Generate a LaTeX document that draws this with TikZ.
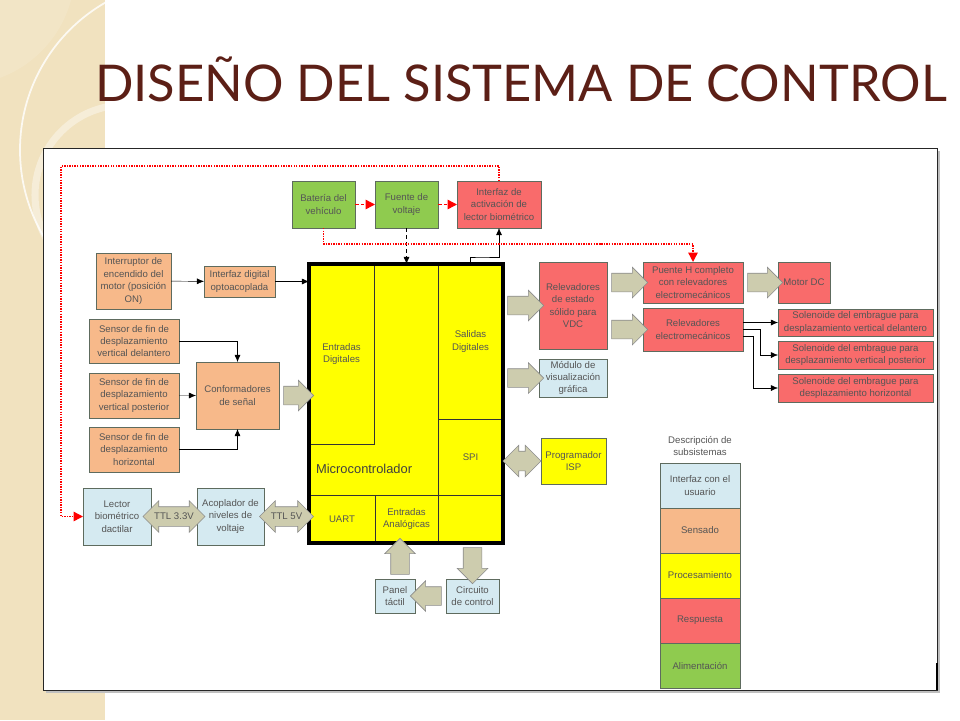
\documentclass[tikz,border=0pt]{standalone}
\usepackage{fontspec}
\setmainfont{Liberation Sans}
\newfontfamily\titlefont{Lato}
\usetikzlibrary{positioning, arrows.meta, calc, shapes.arrows}

\definecolor{sens}{HTML}{F7B98A}
\definecolor{resp}{HTML}{F96B6B}
\definecolor{alim}{HTML}{8FCB4F}
\definecolor{user}{HTML}{D5EAF1}
\definecolor{proc}{HTML}{FFFF00}
\definecolor{fatc}{HTML}{CDCCAE}
\definecolor{edgec}{HTML}{5E6B5E}
\definecolor{txt}{HTML}{555555}
\definecolor{titc}{HTML}{5C1F16}
\definecolor{beige}{HTML}{F1E2BF}

\begin{document}
\begin{tikzpicture}[x=0.03cm, y=-0.03cm]
	% Define styles
	\tikzset{
		block/.style={rectangle, draw=edgec, line width=0.6pt, outer sep=0pt, inner sep=1pt, text=txt, align=center, font=\fontsize{8.2}{10.6}\selectfont},
		wh/.style 2 args={minimum width=#1*0.03cm, minimum height=#2*0.03cm},
		usuario/.style={block, fill=user},
		sensado/.style={block, fill=sens},
		proceso/.style={block, fill=proc},
		respuesta/.style={block, fill=resp},
		aliment/.style={block, fill=alim},
		cell/.style={proceso, draw=black!80},
		line/.style={draw, -{Latex[length=6pt, width=5pt]}},
		rdot/.style={draw=red, densely dotted, line width=1.2pt},
		rdota/.style={rdot, -{Triangle[length=8pt, width=8pt]}},
		rdash/.style={draw=red, densely dashed, line width=1.2pt, -{Triangle[length=8pt, width=8pt]}},
		fat/.style={single arrow, draw=black!45, fill=fatc, line width=0.5pt, inner xsep=0pt, inner ysep=0.27cm, single arrow head extend=0.18cm},
		fatt/.style={double arrow, draw=black!45, fill=fatc, line width=0.5pt, inner xsep=1pt, inner ysep=4.35pt, double arrow head extend=0.18cm, text=txt, font=\fontsize{8.2}{10}\selectfont, text height=6pt, text depth=1.5pt}
	}

	% Slide
	\useasboundingbox (0,0) rectangle (960,720);
	\fill[white] (0,0) rectangle (960,720);
	\fill[beige] (0,0) rectangle (105,720);
	\begin{scope}
		\clip (0,0) rectangle (105,720);
		\fill[white, opacity=0.12] (-40,-30) circle (115);
		\draw[white, line width=1.5pt, opacity=0.8] (190,150) circle (170);
		\draw[white, line width=6pt, opacity=0.4] (125,195) circle (90);
	\end{scope}
	\node[anchor=base west, inner sep=0pt, font=\titlefont\fontsize{43.2}{43.2}\selectfont, text=titc] (title) at (95,101) {DISEÑO DEL SISTEMA DE CONTROL};
	\fill[black!25] (46,151) rectangle (940,693);
	\draw[fill=white, draw=black!85, line width=0.8pt] (43,148) rectangle (937,690);
	\draw[line width=2pt] (937,663) -- (937,690);

	% Nodes
	\node[aliment, wh={63}{47}] (bat) at (323.5,204.5) {Batería del\\vehículo};
	\node[aliment, wh={63}{47}, right=0.6cm of bat] (fte) {Fuente de\\voltaje};
	\node[respuesta, wh={84}{47}, right=0.57cm of fte] (iab) {Interfaz de\\activación de\\lector biométrico};

	\node[sensado, wh={75}{56}] (intr) at (133.5,281) {Interruptor de\\encendido del\\motor (posición\\ON)};
	\node[sensado, wh={71}{31}] (idig) at (239.5,281.5) {Interfaz digital\\optoacoplada};
	\node[sensado, wh={90}{44}] (s1) at (134,341) {Sensor de fin de\\desplazamiento\\vertical delantero};
	\node[sensado, wh={90}{45}, below=0.3cm of s1] (s2) {Sensor de fin de\\desplazamiento\\vertical posterior};
	\node[sensado, wh={90}{45}, below=0.27cm of s2] (s3) {Sensor de fin de\\desplazamiento\\horizontal};
	\node[sensado, wh={83}{67}] (conf) at (237.5,395.5) {Conformadores\\de señal};
	\node[usuario, wh={68}{57}] (lec) at (117,516.5) {Lector\\biométrico\\dactilar};
	\node[usuario, wh={67}{57}] (acop) at (230.5,516.5) {Acoplador de\\niveles de\\voltaje};

	\node[proceso, draw=none, wh={194}{279}] (mc) at (406,403.5) {};
	\node[cell, wh={65}{180}] (ent) at (341.5,354) {Entradas\\Digitales};
	\node[cell, wh={65}{155}] (sal) at (470.5,341.5) {Salidas\\Digitales};
	\node[cell, wh={65}{76}, below=0pt of sal] (spi) {SPI};
	\node[cell, wh={66}{48}] (uart) at (342,519) {UART};
	\node[cell, wh={63}{48}, right=0pt of uart] (ana) {Entradas\\Analógicas};
	\node[cell, wh={65}{48}, right=0pt of ana] (emp) {};
	\node[anchor=west, text=black!75, font=\fontsize{11}{13}\selectfont] (mlab) at (312,469) {Microcontrolador};
	\draw[line width=3pt] (mc.north west) rectangle (mc.south east);

	\node[respuesta, wh={68}{87}] (rss) at (573,305.5) {Relevadores\\de estado\\sólido para\\VDC};
	\node[usuario, wh={68}{38}] (mod) at (573,378) {Módulo de\\visualización\\gráfica};
	\node[proceso, wh={65}{46}] (isp) at (573.5,461) {Programador\\ISP};
	\node[usuario, wh={40}{34}] (pan) at (395,596) {Panel\\táctil};
	\node[usuario, wh={53}{34}] (cir) at (472.5,596) {Circuito\\de control};

	\node[respuesta, wh={100}{41}] (ph) at (693,282.5) {Puente H completo\\con relevadores\\electromecánicos};
	\node[respuesta, wh={52}{41}, right=1.05cm of ph] (mot) {Motor DC};
	\node[respuesta, wh={100}{43}] (rem) at (693,329.5) {Relevadores\\electromecánicos};
	\node[respuesta, wh={155}{27}] (sol1) at (855.5,322.5) {Solenoide del embrague para\\desplazamiento vertical delantero};
	\node[respuesta, wh={155}{28}, below=0.15cm of sol1] (sol2) {Solenoide del embrague para\\desplazamiento vertical posterior};
	\node[respuesta, wh={155}{28}, below=0.15cm of sol2] (sol3) {Solenoide del embrague para\\desplazamiento horizontal};

	% Legend
	\node[text=txt, align=center, font=\fontsize{8.2}{10.6}\selectfont] (lgh) at (700,446) {Descripción de\\subsistemas};
	\node[usuario, wh={80}{45}] (lg1) at (700,485.5) {Interfaz con el\\usuario};
	\node[sensado, wh={80}{45}, below=0pt of lg1] (lg2) {Sensado};
	\node[proceso, wh={80}{45}, below=0pt of lg2] (lg3) {Procesamiento};
	\node[respuesta, wh={80}{45}, below=0pt of lg3] (lg4) {Respuesta};
	\node[aliment, wh={80}{45}, below=0pt of lg4] (lg5) {Alimentación};

	% Fat arrows
	\node[fat, minimum height=30*0.03cm] (fa1) at ($(conf.east)!0.5!(conf.east -| mc.west)$) {};
	\node[fatt, minimum height=46*0.03cm] (fa2) at ($(lec.east)!0.5!(acop.west)$) {TTL 3.3V};
	\node[fatt, minimum height=45*0.03cm] (fa3) at ($(acop.east)!0.5!(acop.east -| mc.west)$) {TTL 5V};
	\node[fat, minimum height=36*0.03cm] (fa4) at ($(rss.west -| mc.east)!0.5!(rss.west)$) {};
	\node[fat, minimum height=36*0.03cm] (fa5) at ($(mod.west -| mc.east)!0.5!(mod.west)$) {};
	\node[fatt, minimum height=38*0.03cm] (fa6) at ($(isp.west -| mc.east)!0.5!(isp.west)$) {};
	\node[fat, minimum height=36*0.03cm] (fa7) at ($(rss.east |- ph.west)!0.5!(ph.west)$) {};
	\node[fat, minimum height=36*0.03cm] (fa8) at ($(rss.east |- rem.west)!0.5!(rem.west)$) {};
	\node[fat, minimum height=35*0.03cm] (fa9) at ($(ph.east)!0.5!(mot.west)$) {};
	\node[fat, minimum height=36*0.03cm, rotate=90] (fa10) at ($(pan.north)!0.5!(pan.north |- mc.south)+(5,0)$) {};
	\node[fat, minimum height=36*0.03cm, rotate=-90] (fa11) at ($(cir.north)!0.5!(cir.north |- mc.south)$) {};
	\node[fat, minimum height=31*0.03cm, rotate=180] (fa12) at ($(cir.west)!0.5!(pan.east)$) {};

	% Arrows
	\draw[rdash] (bat) -- (fte);
	\draw[rdash] (fte) -- (iab);
	\draw[line, dashed] (fte.south) -- (fte.south |- mc.north);
	\coordinate (mk) at (480,257);
	\draw[line] (sal.north) |- (mk) -| (iab.south);
	\coordinate (rv) at (600,244);
	\draw[rdota] (bat.south) |- (rv) -| (ph.north);
	\coordinate (tl) at (61,166);
	\draw[rdota] (iab.north) |- (tl) |- (lec.west);

	\draw[line] (intr) -- (idig);
	\draw[line] (idig.east) -- (idig.east -| mc.west);
	\draw[line] (s1.east) -| (conf.north);
	\draw[line] (s2) -- (conf);
	\draw[line] (s3.east) -| (conf.south);

	\draw[line] (rem.east |- sol1.west) -- (sol1.west);
	\draw[line] (rem.east) -- ++(17,0) |- (sol2.west);
	\draw[line] ($(rem.east)+(0,7)$) -- ++(10,0) |- (sol3.west);
\end{tikzpicture}
\end{document}
